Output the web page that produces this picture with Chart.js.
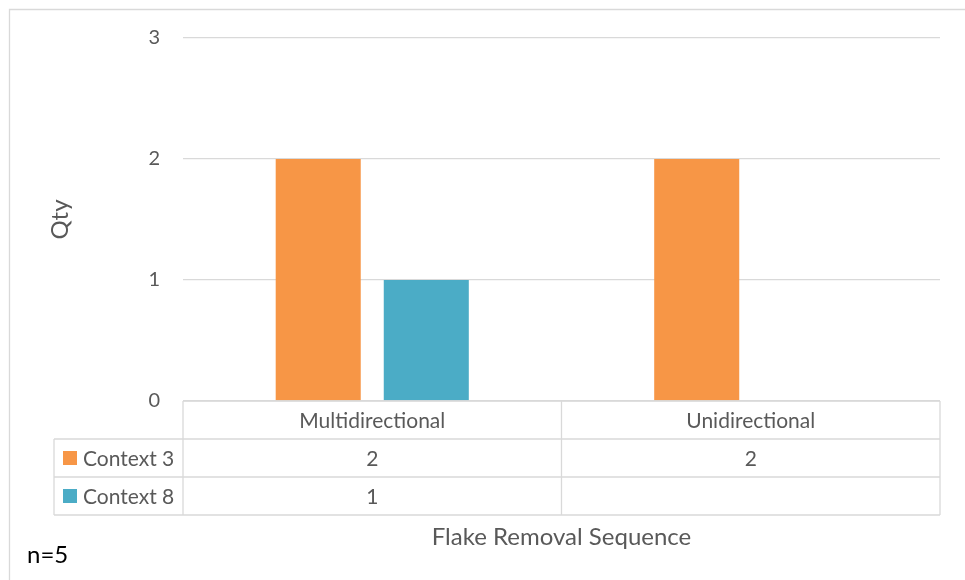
<!DOCTYPE html>
<html>
<head>
<meta charset="utf-8">
<script src="https://cdn.jsdelivr.net/npm/chart.js@4.4.1/dist/chart.umd.min.js"></script>
<style>
  body { margin: 0; background: #fff; }
  canvas { display: block; }
</style>
</head>
<body>
<canvas id="myChart" width="965" height="580"></canvas>
<script>
// data
var categories = ['Multidirectional', 'Unidirectional'];
var seriesNames = ['Context 3', 'Context 8'];
var context3 = [2, 2];
var context8 = [1, null];
var yTicks = [0, 1, 2, 3];

var FONT = 'Lato, "Noto Sans", sans-serif';
var TEXT = '#595959';
var LINE = '#d9d9d9';

// draws the data table under the plot, the frame and the loose labels
var tablePlugin = {
  id: 'dataTable',
  afterDraw: function(chart) {
    var ctx = chart.ctx;
    var area = chart.chartArea;
    var x = chart.scales.x;
    var n = categories.length;
    var rows = chart.data.datasets.length;
    var colW = (area.right - area.left) / n;
    var rowH = 38;
    var top = area.bottom;
    var keyLeft = 54;

    ctx.save();
    ctx.strokeStyle = LINE;
    ctx.lineWidth = 1.3;

    // frame
    ctx.beginPath();
    ctx.moveTo(9.5, 580);
    ctx.lineTo(9.5, 9.5);
    ctx.lineTo(965, 9.5);
    ctx.stroke();

    // horizontal lines
    ctx.beginPath();
    ctx.moveTo(area.left, top);
    ctx.lineTo(area.right, top);
    for (var r = 1; r <= rows + 1; r++) {
      ctx.moveTo(keyLeft, top + r * rowH);
      ctx.lineTo(area.right, top + r * rowH);
    }
    // vertical lines
    for (var c = 0; c <= n; c++) {
      ctx.moveTo(area.left + c * colW, top);
      ctx.lineTo(area.left + c * colW, top + (rows + 1) * rowH);
    }
    ctx.moveTo(keyLeft, top + rowH);
    ctx.lineTo(keyLeft, top + (rows + 1) * rowH);
    ctx.stroke();

    ctx.font = '21px ' + FONT;
    ctx.fillStyle = TEXT;
    ctx.textBaseline = 'middle';
    ctx.textAlign = 'center';
    categories.forEach(function(cat, i) {
      ctx.fillText(cat, x.getPixelForValue(i), top + rowH / 2 + 1);
    });

    chart.data.datasets.forEach(function(ds, d) {
      var cy = top + (d + 1.5) * rowH;
      ctx.fillStyle = ds.backgroundColor;
      ctx.fillRect(63, cy - 7, 14, 14);
      ctx.fillStyle = TEXT;
      ctx.textAlign = 'left';
      ctx.fillText(ds.label, 83, cy + 1);
      ctx.textAlign = 'center';
      ds.data.forEach(function(v, i) {
        if (v !== null) ctx.fillText(String(v), x.getPixelForValue(i), cy + 1);
      });
    });

    // axis title and note
    ctx.font = '24px ' + FONT;
    ctx.fillText('Flake Removal Sequence', (area.left + area.right) / 2, 537);
    ctx.fillStyle = '#000';
    ctx.textAlign = 'left';
    ctx.fillText('n=5', 27, 555);
    ctx.restore();
  }
};

var ctx = document.getElementById('myChart').getContext('2d');
new Chart(ctx, {
  type: 'bar',
  data: {
    labels: categories,
    datasets: [{
      label: seriesNames[0],
      data: context3,
      backgroundColor: '#F79646'
    }, {
      label: seriesNames[1],
      data: context8,
      backgroundColor: '#4BACC6'
    }]
  },
  options: {
    responsive: false,
    animation: false,
    layout: { padding: { left: 0, right: 25, top: 38, bottom: 179 } },
    plugins: {
      legend: { display: false },
      tooltip: { enabled: false }
    },
    datasets: {
      bar: { categoryPercentage: 0.571, barPercentage: 0.787 }
    },
    scales: {
      x: { display: false },
      y: {
        min: 0,
        max: 3,
        afterFit: function(scale) { scale.width = 183; },
        afterBuildTicks: function(scale) {
          scale.ticks = yTicks.map(function(v) { return { value: v }; });
        },
        border: { display: false },
        grid: { color: LINE, lineWidth: 1.3, drawTicks: false },
        ticks: { color: TEXT, font: { family: FONT, size: 20 }, padding: 23 },
        title: {
          display: true,
          text: 'Qty',
          color: TEXT,
          font: { family: FONT, size: 24 },
          padding: { top: 46, bottom: 0 }
        }
      }
    }
  },
  plugins: [tablePlugin]
});
</script>
</body>
</html>
